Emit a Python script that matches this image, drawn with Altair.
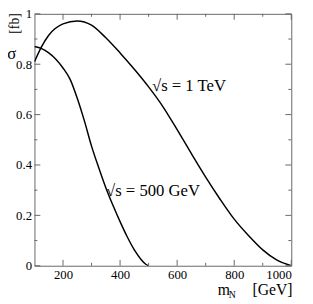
import altair as alt
import pandas as pd

# ---- data ----
mass_1tev = [100, 125, 150, 200, 250, 300, 350, 400, 450, 500, 550, 600, 650, 700, 750, 800, 850, 900, 950, 1000]
sigma_1tev = [0.81, 0.87, 0.915, 0.96, 0.972, 0.955, 0.905, 0.845, 0.78, 0.71, 0.632, 0.54, 0.445, 0.352, 0.265, 0.185, 0.12, 0.063, 0.022, 0.0]

mass_500 = [100, 125, 150, 175, 200, 225, 250, 275, 300, 325, 350, 375, 400, 425, 450, 475, 490, 500]
sigma_500 = [0.87, 0.862, 0.845, 0.82, 0.785, 0.74, 0.665, 0.575, 0.475, 0.39, 0.31, 0.24, 0.175, 0.115, 0.063, 0.023, 0.006, 0.0]

x_major = [200, 400, 600, 800, 1000]
x_minor = [300, 500, 700, 900]
y_major = [0, 0.2, 0.4, 0.6, 0.8, 1.0]
y_minor = [0.1, 0.3, 0.5, 0.7, 0.9]

labels_text = ["√s = 1 TeV", "√s = 500 GeV"]
labels_x = [512, 351]
labels_y = [0.714, 0.298]

W, H = 262, 257
FONT = "Liberation Serif"
GRAY = "#666666"

xs = alt.Scale(domain=[100, 1000], nice=False, zero=False)
ys = alt.Scale(domain=[0, 1], nice=False, zero=False)
xaxis = alt.Axis(values=x_major, format="d", ticks=False, domain=False, grid=False,
                 labelFont=FONT, labelFontSize=13, labelColor="black", labelPadding=3, title=None)
yaxis = alt.Axis(values=y_major, format=".1~f", ticks=False, domain=False, grid=False,
                 labelFont=FONT, labelFontSize=13, labelColor="black", labelPadding=3, title=None)

def X(f):
    return alt.X(f, scale=xs, axis=xaxis)

def Y(f):
    return alt.Y(f, scale=ys, axis=yaxis)

curves = pd.concat([
    pd.DataFrame({"m": mass_1tev, "s": sigma_1tev, "series": "1 TeV"}),
    pd.DataFrame({"m": mass_500, "s": sigma_500, "series": "500 GeV"}),
])

lines = alt.Chart(curves).mark_line(color="black", strokeWidth=1.5, interpolate="monotone", clip=True).encode(
    x=X("m:Q"), y=Y("s:Q"), detail="series:N",
)

def xticks(vals, length):
    df = pd.DataFrame({"v": vals})
    bottom = alt.Chart(df).mark_rule(color=GRAY, strokeWidth=1).encode(
        x=X("v:Q"), y=alt.value(H), y2=alt.value(H - length))
    top = alt.Chart(df).mark_rule(color=GRAY, strokeWidth=1).encode(
        x=X("v:Q"), y=alt.value(0), y2=alt.value(length))
    return [bottom, top]

def yticks(vals, length):
    df = pd.DataFrame({"v": vals})
    left = alt.Chart(df).mark_rule(color=GRAY, strokeWidth=1).encode(
        y=Y("v:Q"), x=alt.value(0), x2=alt.value(length))
    right = alt.Chart(df).mark_rule(color=GRAY, strokeWidth=1).encode(
        y=Y("v:Q"), x=alt.value(W), x2=alt.value(W - length))
    return [left, right]

ticks = xticks(x_major, 6) + xticks(x_minor, 3) + yticks(y_major, 6) + yticks(y_minor, 3)

lab_df = pd.DataFrame({"t": labels_text, "x": labels_x, "y": labels_y})
labels = alt.Chart(lab_df).mark_text(font=FONT, fontSize=17, align="left", baseline="middle", color="black").encode(
    x=X("x:Q"), y=Y("y:Q"), text="t:N")

# axis titles
xt_df = pd.DataFrame({"t": ["m", "N", "[GeV]"], "x": [742, 781, 864], "y": [-0.117, -0.128, -0.117],
                      "size": [16, 10, 16]})
xtitle = alt.Chart(xt_df).mark_text(font=FONT, align="left", baseline="alphabetic", color="black").encode(
    x=X("x:Q"), y=Y("y:Q"), text="t:N",
    size=alt.Size("size:Q", scale=None, legend=None))

fb = alt.Chart(pd.DataFrame({"t": ["[fb]"], "x": [33], "y": [0.962]})).mark_text(
    font=FONT, fontSize=14, angle=270, align="center", baseline="middle", color="black").encode(
    x=X("x:Q"), y=Y("y:Q"), text="t:N")
sig = alt.Chart(pd.DataFrame({"t": ["σ"], "x": [20], "y": [0.84]})).mark_text(
    font=FONT, fontSize=17, align="center", baseline="middle", color="black").encode(
    x=X("x:Q"), y=Y("y:Q"), text="t:N")

chart = alt.layer(lines, *ticks, labels, xtitle, fb, sig).properties(
    width=W, height=H,
    autosize=alt.AutoSizeParams(type="none"),
    padding={"left": 27, "top": 3, "right": 14, "bottom": 33},
    background="white",
).configure_view(stroke=GRAY, strokeWidth=1)

chart.save("out.html", embed_options={"renderer": "svg", "actions": False})
